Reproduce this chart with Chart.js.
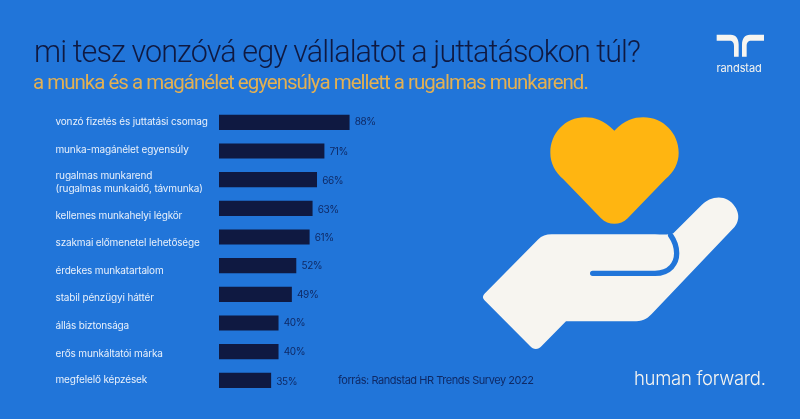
<!DOCTYPE html>
<html lang="hu">
<head>
<meta charset="utf-8">
<title>mi tesz vonzóvá egy vállalatot</title>
<script src="https://cdn.jsdelivr.net/npm/chart.js@4"></script>
<style>
  html, body { margin: 0; width: 800px; height: 419px; overflow: hidden; background: #2175d9; }
  #wrap { position: relative; width: 800px; height: 419px; }
  #wrap canvas { position: absolute; left: 0; top: 0; }
  .txt { position: absolute; white-space: nowrap; font-family: Inter, Roboto, sans-serif; }
  #title { left: 34px; top: 33px; font-family: Roboto, sans-serif; font-size: 30.5px; line-height: 38px; font-weight: 300; color: #0f1941; letter-spacing: -0.9px; }
  #sub { left: 33px; top: 68px; font-family: Roboto, sans-serif; font-size: 20.5px; line-height: 28px; font-weight: 400; color: #e3b052; letter-spacing: -1px; }
  #source { left: 338px; top: 372px; font-size: 11px; line-height: 16px; letter-spacing: -0.45px; color: #0f2a66; }
  #tag { left: 634px; top: 364px; font-size: 18.5px; line-height: 28px; font-weight: 300; letter-spacing: -0.3px; color: #f7f5f0; }
  #brand { left: 716.5px; top: 60px; font-size: 11px; line-height: 16px; letter-spacing: -0.1px; color: #f7f5f0; }
  svg { position: absolute; }
</style>
</head>
<body>
<div id="wrap">
  <canvas id="chart" width="800" height="419"></canvas>
  <div class="txt" id="title">mi tesz vonzóvá egy vállalatot a juttatásokon túl?</div>
  <div class="txt" id="sub">a munka és a magánélet egyensúlya mellett a rugalmas munkarend.</div>
  <div class="txt" id="source">forrás: Randstad HR Trends Survey 2022</div>
  <div class="txt" id="tag">human forward.</div>
  <div class="txt" id="brand">randstad</div>

  <!-- logo -->
  <svg style="left:700px;top:20px" width="90" height="70" viewBox="0 0 270 210">
    <path fill="#f7f5f0" d="M50 44 L92 44 C108 44 116 56 116 74 L116 110 L102 110 L102 78 C102 68 98 62 88 62 L50 62 Z"/>
    <path fill="#f7f5f0" d="M192 44 L150 44 C134 44 126 56 126 74 L126 110 L140 110 L140 78 C140 68 144 62 154 62 L192 62 Z"/>
  </svg>

  <!-- kez es sziv -->
  <svg style="left:470px;top:110px" width="300" height="250" viewBox="0 0 900 750">
    <path fill="#ffb511" d="M433 62 C400 30 375 22 345 22 C285 22 241 70 241 128 C241 160 255 185 280 208 L393 325 C415 347 451 347 473 325 L586 208 C612 185 626 160 626 128 C626 70 580 22 520 22 C490 22 465 30 433 62 Z"/>
    <path fill="#f7f5f0" d="M610 370 L695 285 C720 258 770 250 795 290 C815 320 800 345 790 355 L545 612 C530 628 515 634 490 634 L288 634 L215 708 C205 720 190 720 180 708 L45 572 C37 565 37 558 45 550 L205 388 C215 378 228 373 245 373 L555 373 C575 373 592 376 610 370 Z"/>
    <path fill="none" stroke="#2175d9" stroke-width="16" stroke-linecap="round" d="M368 490 L555 490 C600 490 620 460 620 430 C620 410 612 390 602 376"/>
  </svg>
</div>

<script>
// Datos
const categories = [
    ["vonzó fizetés és juttatási csomag"],
    ["munka-magánélet egyensúly"],
    ["rugalmas munkarend", "(rugalmas munkaidő, távmunka)"],
    ["kellemes munkahelyi légkör"],
    ["szakmai előmenetel lehetősége"],
    ["érdekes munkatartalom"],
    ["stabil pénzügyi háttér"],
    ["állás biztonsága"],
    ["erős munkáltatói márka"],
    ["megfelelő képzések"],
];
const values = [88, 71, 66, 63, 61, 52, 49, 40, 40, 35];

// Pequeños desplazamientos verticales de los textos respecto a cada barra
const labelShift = [0, -1, 3, 8, 6, 5, 4, 3, 2, 0];
const valueShift = [0, 1, 1, 2, 1, 0, 1, 0, 0, 2];

// Textos de categoria y de valor, colocados a partir de las barras
const barTexts = {
    id: "barTexts",
    afterDatasetsDraw(chart) {
        const ctx = chart.ctx;
        const bars = chart.getDatasetMeta(0).data;
        ctx.save();
        ctx.textBaseline = "middle";
        bars.forEach((bar, i) => {
            ctx.font = "400 10px Inter, Roboto, sans-serif";
            ctx.letterSpacing = "-0.15px";
            ctx.fillStyle = "#e8f0fb";
            ctx.textAlign = "left";
            const lines = categories[i];
            lines.forEach((line, n) => {
                const y = bar.y + labelShift[i] + (n - (lines.length - 1) / 2) * 12.5;
                ctx.fillText(line, 55.5, y);
            });
            ctx.font = "400 10px Inter, Roboto, sans-serif";
            ctx.letterSpacing = "-0.4px";
            ctx.fillStyle = "#0f2a66";
            ctx.fillText(values[i] + "%", bar.x + 5.5, bar.y + valueShift[i]);
        });
        ctx.restore();
    },
};

new Chart(document.getElementById("chart").getContext("2d"), {
    type: "bar",
    data: {
        labels: categories,
        datasets: [{
            data: values,
            backgroundColor: "#0f1941",
            borderWidth: 0,
            barThickness: 14.5,
        }],
    },
    options: {
        indexAxis: "y",
        responsive: false,
        animation: false,
        layout: { padding: { left: 219, right: 433, top: 108, bottom: 24.3 } },
        plugins: { legend: { display: false }, tooltip: { enabled: false } },
        scales: {
            x: { display: false, min: 0, max: 100 },
            y: { display: false },
        },
    },
    plugins: [barTexts],
});
</script>
</body>
</html>
